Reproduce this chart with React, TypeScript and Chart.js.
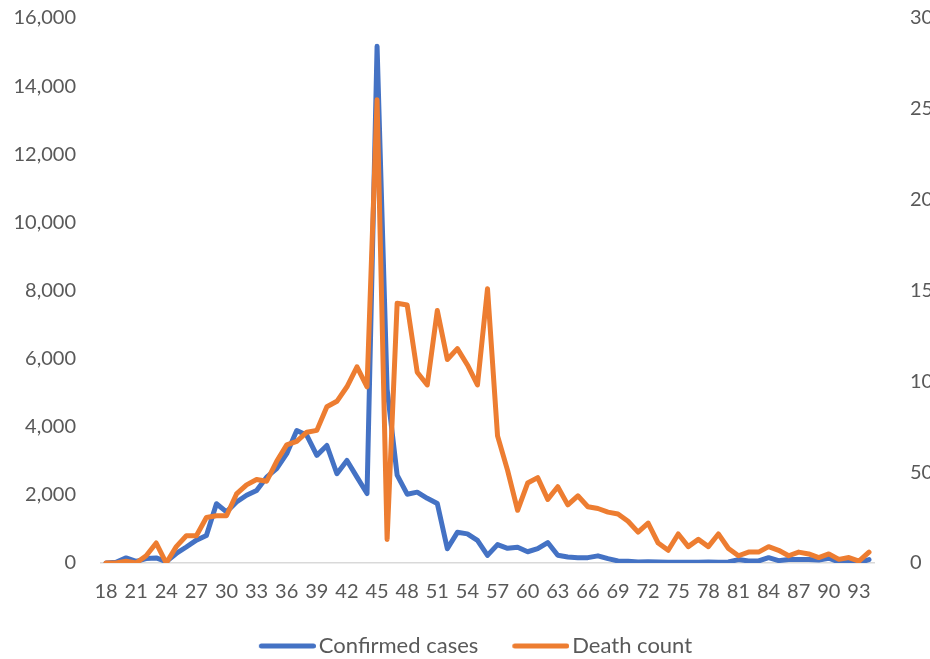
import React, { useEffect, useRef } from 'react';
import { Chart, registerables } from 'chart.js';

Chart.register(...registerables);

const days: string[] = [
  '18', '19', '20', '21', '22', '23', '24', '25', '26', '27', '28', '29',
  '30', '31', '32', '33', '34', '35', '36', '37', '38', '39',
  '40', '41', '42', '43', '44', '45', '46', '47', '48', '49',
  '50', '51', '52', '53', '54', '55', '56', '57', '58', '59',
  '60', '61', '62', '63', '64', '65', '66', '67', '68', '69',
  '70', '71', '72', '73', '74', '75', '76', '77', '78', '79',
  '80', '81', '82', '83', '84', '85', '86', '87', '88', '89',
  '90', '91', '92', '93', '94',
];

const confirmedCases: number[] = [
  0, 20, 150, 50, 130, 150, 40, 280, 470, 670, 810, 1740,
  1500, 1790, 1990, 2130, 2520, 2770, 3210, 3890, 3750, 3160,
  3450, 2620, 3010, 2520, 2040, 15170, 5100, 2580, 2020, 2080,
  1900, 1745, 420, 900, 855, 665, 225, 540, 430, 460,
  330, 422, 600, 226, 176, 157, 157, 210, 127, 60,
  50, 30, 40, 30, 20, 20, 20, 20, 30, 20,
  30, 100, 60, 60, 157, 70, 100, 100, 100, 90,
  140, 30, 40, 10, 100,
];

const deathCount: number[] = [
  0, 0, 1, 0, 4, 11, 0, 9, 15, 15, 25, 26,
  26, 38, 43, 46, 45, 56, 65, 67, 72, 73,
  86, 89, 97, 108, 97, 255, 13, 143, 142, 105,
  98, 139, 112, 118, 109, 98, 151, 70, 51, 29,
  44, 47, 35, 42, 32, 37, 31, 30, 28, 27,
  23, 17, 22, 11, 7, 16, 9, 13, 9, 16,
  8, 4, 6, 6, 9, 7, 4, 6, 5, 3,
  5, 2, 3, 1, 6,
];

const FONT = 'Lato, "Open Sans", sans-serif';
const TEXT = '#595959';
const BLUE = '#4472C4';
const ORANGE = '#ED7D31';

const LEGEND_BOX = 70;
const MARKER_LEN = 57;

function makeMarker(color: string): HTMLCanvasElement {
  const w = LEGEND_BOX + 16;
  const c = document.createElement('canvas');
  c.width = w;
  c.height = 6;
  const ctx = c.getContext('2d');
  if (ctx) {
    ctx.strokeStyle = color;
    ctx.lineWidth = 5;
    ctx.lineCap = 'round';
    ctx.beginPath();
    ctx.moveTo(w - MARKER_LEN + 2.5, 3);
    ctx.lineTo(w - 2.5, 3);
    ctx.stroke();
  }
  return c;
}

export default function App() {
  const ref = useRef<HTMLCanvasElement | null>(null);

  useEffect(() => {
    if (!ref.current) return;
    const markers = [makeMarker(BLUE), makeMarker(ORANGE)];
    const chart = new Chart(ref.current, {
      type: 'line',
      data: {
        labels: days,
        datasets: [
          {
            label: 'Confirmed cases',
            data: confirmedCases,
            borderColor: BLUE,
            backgroundColor: BLUE,
            borderWidth: 5,
            pointRadius: 0,
            tension: 0,
            borderJoinStyle: 'round',
            borderCapStyle: 'round',
            yAxisID: 'y',
            order: 1,
          },
          {
            label: 'Death count',
            data: deathCount,
            borderColor: ORANGE,
            backgroundColor: ORANGE,
            borderWidth: 5,
            pointRadius: 0,
            tension: 0,
            borderJoinStyle: 'round',
            borderCapStyle: 'round',
            yAxisID: 'y1',
            order: 0,
          },
        ],
      },
      options: {
        responsive: false,
        animation: false,
        layout: { padding: { top: 18, bottom: 0, left: 0, right: 0 } },
        plugins: {
          tooltip: { enabled: false },
          legend: {
            position: 'bottom',
            labels: {
              usePointStyle: true,
              pointStyleWidth: LEGEND_BOX,
              boxHeight: 5,
              padding: 13,
              color: TEXT,
              font: { family: FONT, size: 22 },
              sort: (a: any, b: any) => a.datasetIndex - b.datasetIndex,
              generateLabels: (c: any) =>
                (Chart.defaults.plugins.legend.labels.generateLabels as any)(c).map((l: any) => ({
                  ...l,
                  lineWidth: 0,
                  pointStyle: markers[l.datasetIndex],
                })),
            },
          },
        },
        scales: {
          x: {
            offset: true,
            grid: { display: false, drawTicks: false },
            border: { display: true, color: '#D9D9D9', width: 1.5 },
            ticks: {
              autoSkip: false,
              maxRotation: 0,
              minRotation: 0,
              padding: 17,
              color: TEXT,
              font: { family: FONT, size: 20 },
              callback: (_v: any, i: number) => (i % 3 === 0 ? days[i] : ''),
            },
            afterFit: (s: any) => {
              s.height = 59;
            },
          },
          y: {
            position: 'left',
            min: 0,
            max: 16000,
            grid: { display: false, drawTicks: false },
            border: { display: false },
            ticks: {
              stepSize: 2000,
              padding: 25,
              color: TEXT,
              font: { family: FONT, size: 20 },
              callback: (v: any) => Number(v).toLocaleString('en-US'),
            },
            afterFit: (s: any) => {
              s.width = 101;
              s.paddingTop = 0;
              s.paddingBottom = 0;
            },
          },
          y1: {
            position: 'right',
            min: 0,
            max: 300,
            grid: { display: false, drawTicks: false },
            border: { display: false },
            ticks: {
              stepSize: 50,
              padding: 36,
              color: TEXT,
              font: { family: FONT, size: 20 },
            },
            afterFit: (s: any) => {
              s.width = 56;
              s.paddingTop = 0;
              s.paddingBottom = 0;
            },
          },
        },
      },
    });
    return () => chart.destroy();
  }, []);

  return (
    <div
      style={{
        position: 'fixed',
        left: 0,
        top: 0,
        width: 930,
        height: 659,
        overflow: 'hidden',
        background: '#fff',
      }}
    >
      <canvas ref={ref} width={930} height={667} style={{ display: 'block' }} />
    </div>
  );
}
